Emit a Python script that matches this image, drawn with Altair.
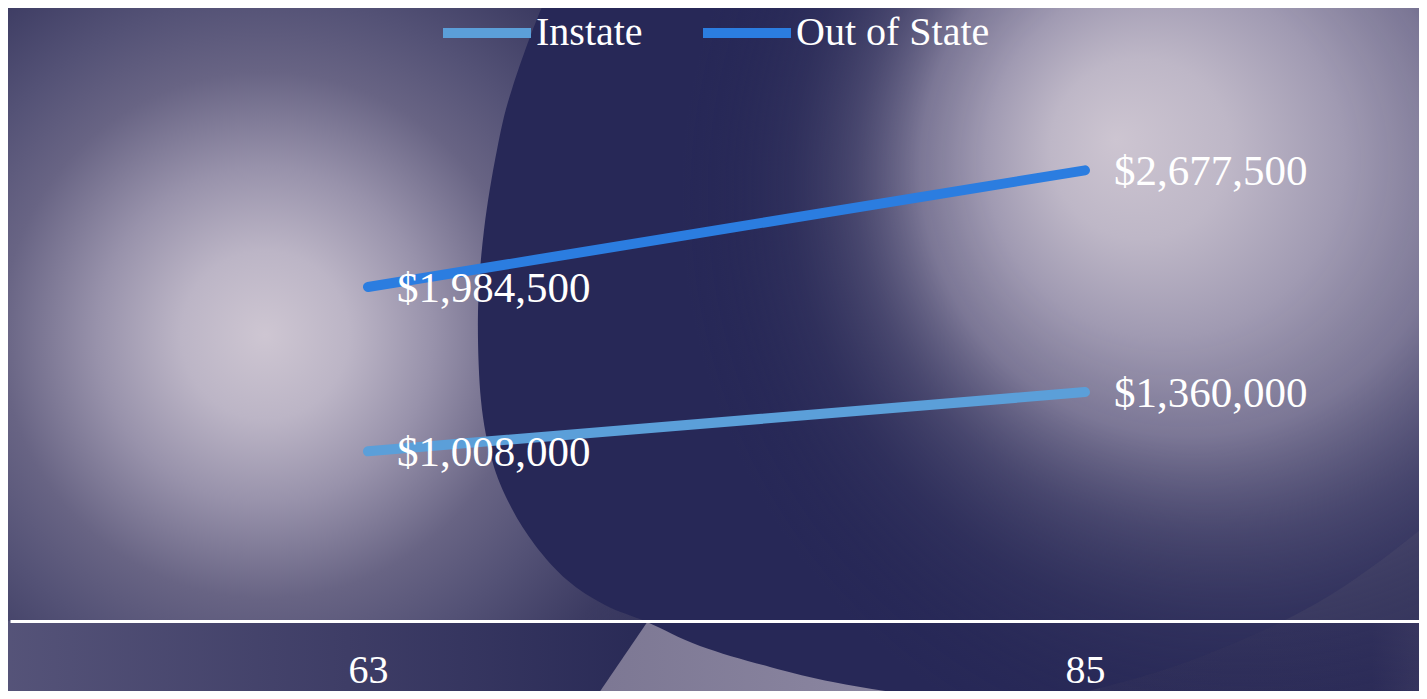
import altair as alt
import pandas as pd

# ---------------- data ----------------
ages = ["63", "85"]
series = ["Instate", "Out of State"]
instate = [1008000, 1360000]
out_of_state = [1984500, 2677500]
series_colors = ["#5b9fd9", "#2b7de0"]

rows = []
for s, vals in zip(series, [instate, out_of_state]):
    for a, v in zip(ages, vals):
        rows.append({"age": a, "series": s, "value": v})
df = pd.DataFrame(rows)

# ---------------- decoration helpers ----------------
OX, OY = 10, 8          # plot origin on the page
one = pd.DataFrame({"k": [0]})


def smooth_path(points, center, S):
    pts = [((x - center[0]) / S, (y - center[1]) / S) for x, y in points]
    n = len(pts)
    d = f"M{pts[0][0]:.4f},{pts[0][1]:.4f}"
    for i in range(n):
        p0, p1, p2, p3 = pts[(i - 1) % n], pts[i], pts[(i + 1) % n], pts[(i + 2) % n]
        c1 = (p1[0] + (p2[0] - p0[0]) / 6, p1[1] + (p2[1] - p0[1]) / 6)
        c2 = (p2[0] - (p3[0] - p1[0]) / 6, p2[1] - (p3[1] - p1[1]) / 6)
        d += f"C{c1[0]:.4f},{c1[1]:.4f},{c2[0]:.4f},{c2[1]:.4f},{p2[0]:.4f},{p2[1]:.4f}"
    return d + "Z"


def poly_path(points, center, S):
    pts = [((x - center[0]) / S, (y - center[1]) / S) for x, y in points]
    d = "M" + "L".join(f"{x:.4f},{y:.4f}" for x, y in pts)
    return d + "Z"


def shape_layer(path, center, S, fill):
    return alt.Chart(one).mark_point(
        shape=path, size=4 * S * S, filled=True, fill=fill,
        opacity=1, fillOpacity=1, strokeWidth=0,
    ).encode(x=alt.value(center[0] - OX), y=alt.value(center[1] - OY))


def rect_layer(x0, y0, x1, y1, fill):
    return alt.Chart(one).mark_rect(fill=fill).encode(
        x=alt.value(x0 - OX), x2=alt.value(x1 - OX),
        y=alt.value(y0 - OY), y2=alt.value(y1 - OY),
    )


def stops(lst):
    return [{"offset": o, "color": c} for o, c in lst]


# left glow
left_glow = rect_layer(265 - 560, 335 - 560, 265 + 560, 335 + 560, {
    "gradient": "radial", "x1": 0.5, "y1": 0.5, "r1": 0, "x2": 0.5, "y2": 0.5, "r2": 0.5,
    "stops": stops([(0, "#cec6d2"), (0.15, "#bcb5c6"), (0.3, "#9892ab"), (0.47, "#686484"),
                    (0.6, "#545276"), (0.76, "#3c3b62"), (1, "rgba(52,52,92,0)")]),
})

# bottom-left darker band under the axis
bl_c, bl_S = (300, 666), 400
bottom_left = shape_layer(
    poly_path([(648, 621), (586, 712), (-20, 712), (-20, 621)], bl_c, bl_S), bl_c, bl_S,
    {"gradient": "linear", "x1": 0, "y1": 0, "x2": 1, "y2": 0,
     "stops": stops([(0, "#57557a"), (0.55, "#3e3d66"), (1, "#292a56")])})

# bottom-right darker band under the axis
br_c, br_S = (1300, 666), 200
bottom_right = shape_layer(
    poly_path([(1100, 621), (1100, 712), (1440, 712), (1440, 621)], br_c, br_S), br_c, br_S,
    {"gradient": "linear", "x1": 0, "y1": 0, "x2": 1, "y2": 0,
     "stops": stops([(0, "#2c2c58"), (0.8, "#2a2a57"), (1, "#3a3860")])})

# lavender wedge under the dark sphere
wd_c, wd_S = (820, 666), 400
wedge = shape_layer(
    poly_path([(648, 621), (586, 712), (1050, 712), (900, 621)], wd_c, wd_S), wd_c, wd_S,
    {"gradient": "linear", "x1": 0, "y1": 0, "x2": 1, "y2": 0,
     "stops": stops([(0, "#7c7793"), (1, "#938ea8")])})

# big dark sphere
dark_pts = [(760, -230), (640, -130), (575, -50), (545, 0), (512, 89), (497, 150), (484, 230),
            (478, 312), (481, 400), (492, 460), (510, 505), (535, 545), (567, 580), (605, 605),
            (647, 622), (700, 646), (770, 667), (833, 682), (900, 693), (967, 699),
            (1030, 701), (1100, 688), (1200, 657), (1317, 603), (1420, 530), (1520, 440),
            (1620, 330), (1680, 200), (1680, 50), (1600, -90), (1420, -200), (1220, -250),
            (1000, -260)]
dk_c, dk_S = (1080, 220), 800
dark = shape_layer(smooth_path(dark_pts, dk_c, dk_S), dk_c, dk_S, "#272857")

# right glow (on top of the sphere)
right_glow = rect_layer(680, -400, 1880, 800, {
    "gradient": "radial", "x1": 0.363, "y1": 0.45, "r1": 0, "x2": 0.5, "y2": 0.5, "r2": 0.5,
    "stops": stops([(0, "rgba(205,197,209,1)"), (0.15, "rgba(190,183,199,1)"),
                    (0.3, "rgba(160,154,178,1)"), (0.45, "rgba(132,127,156,0.9)"),
                    (0.6, "rgba(98,95,128,0.55)"), (0.75, "rgba(70,69,105,0.25)"),
                    (0.9, "rgba(50,50,90,0.06)"), (1, "rgba(40,40,85,0)")]),
})

# ---------------- chart ----------------
FONT = "Liberation Serif"

x_enc = alt.X(
    "age:N",
    sort=ages,
    scale=alt.Scale(type="point", padding=0.4826, align=0.5173),
    axis=alt.Axis(title=None, labelAngle=0, ticks=False, grid=False, zindex=1,
                  domainColor="white", domainWidth=3, labelColor="white",
                  labelFont=FONT, labelFontSize=40, labelPadding=29),
)
y_enc = alt.Y("value:Q", scale=alt.Scale(domain=[0, 3642000], nice=False, zero=True), axis=None)

lines = alt.Chart(df).mark_line(strokeWidth=10, strokeCap="round").encode(
    x=x_enc,
    y=y_enc,
    color=alt.Color(
        "series:N",
        scale=alt.Scale(domain=series, range=series_colors),
        legend=alt.Legend(
            title=None, orient="none", legendX=428, legendY=-24, direction="horizontal",
            symbolType="stroke", symbolSize=7744, symbolStrokeWidth=10,
            labelFont=FONT, labelFontSize=40, labelColor="white", labelOffset=0,
            columnPadding=40, padding=0, labelLimit=0, zindex=1,
        ),
    ),
)

labels = alt.Chart(df).mark_text(
    align="left", baseline="middle", dx=29, dy=2, font=FONT, fontSize=43, color="white"
).encode(x=x_enc, y=y_enc, text=alt.Text("value:Q", format="$,.0f"))

chart = alt.layer(
    left_glow, bottom_left, bottom_right, wedge, dark, right_glow, lines, labels
).properties(
    width=1409, height=613,
    padding={"left": 2, "top": 0, "right": 0, "bottom": 70},
    autosize=alt.AutoSizeParams(type="none"),
    background="#34345c",
).configure_view(stroke=None)

chart.save("out.html", embed_options={"renderer": "svg", "actions": False})
